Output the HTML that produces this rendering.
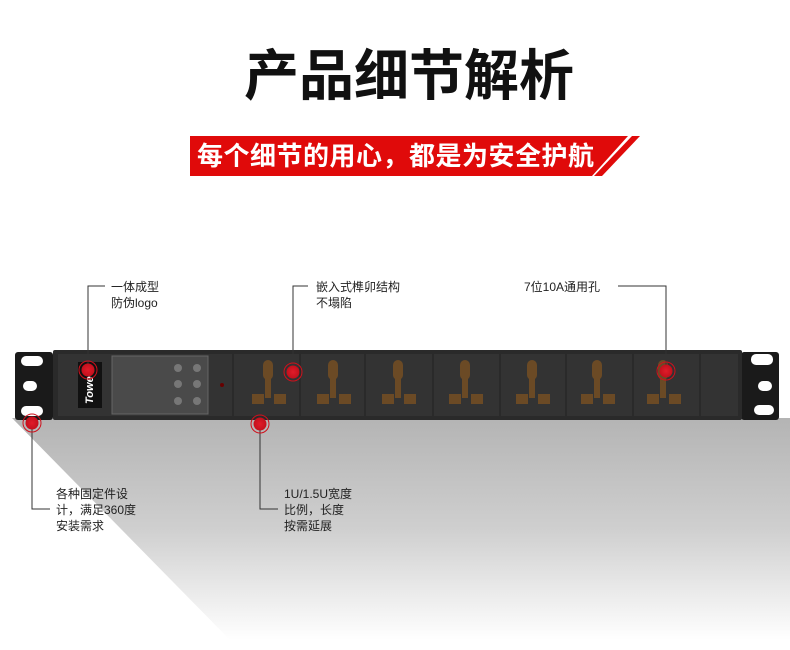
<!DOCTYPE html>
<html><head><meta charset="utf-8"><style>
html,body{margin:0;padding:0;background:#fff;}
body{width:790px;height:650px;position:relative;overflow:hidden;font-family:"Liberation Sans","Noto Sans CJK SC",sans-serif;}
.t{position:absolute;font-size:12px;color:#222;line-height:16px;}
</style></head><body>
<svg width="790" height="650" style="position:absolute;left:0;top:0">
<defs>
<linearGradient id="sh" x1="0" y1="0" x2="0" y2="1">
<stop offset="0" stop-color="#b4b4b4"/><stop offset="0.5" stop-color="#cfcfcf"/><stop offset="1" stop-color="#fff"/>
</linearGradient>
<radialGradient id="rd"><stop offset="0" stop-color="#e01c2a"/><stop offset="1" stop-color="#c3101c"/></radialGradient>
<g id="s"><rect x="-5" y="10" width="10" height="20" rx="5"/><rect x="-3" y="28" width="6" height="20"/><rect x="-16" y="44" width="12" height="10"/><rect x="6" y="44" width="12" height="10"/></g>
</defs>
<polygon points="12,418 790,418 790,640 230,640" fill="url(#sh)"/>
<text x="409" y="95" text-anchor="middle" font-size="55" font-weight="bold" font-family="Liberation Sans,Noto Sans CJK SC,sans-serif" fill="#111">产品细节解析</text>
<polygon points="190,136 628,136 592,176 190,176" fill="#e00a0a"/>
<polygon points="632,136 640,136 602,176 594,176" fill="#e00a0a"/>
<text x="197" y="165" font-size="26" letter-spacing="0.5" font-weight="bold" fill="#fff" font-family="Liberation Sans,Noto Sans CJK SC,sans-serif">每个细节的用心，都是为安全护航</text>
<rect x="15" y="352" width="38" height="68" rx="3" fill="#1a1a1a"/>
<rect x="21" y="356" width="22" height="10" rx="5" fill="#fff"/>
<rect x="23" y="381" width="14" height="10" rx="5" fill="#fff"/>
<rect x="21" y="406" width="22" height="10" rx="5" fill="#fff"/>
<rect x="741" y="352" width="38" height="68" rx="3" fill="#1a1a1a"/>
<rect x="751" y="354" width="22" height="11" rx="5" fill="#fff"/>
<rect x="758" y="381" width="14" height="10" rx="5" fill="#fff"/>
<rect x="754" y="405" width="20" height="10" rx="5" fill="#fff"/>
<rect x="53" y="350" width="689" height="70" rx="2" fill="#2a2a2a"/>
<rect x="58" y="354" width="680" height="62" fill="#333"/>
<rect x="78" y="362" width="24" height="46" fill="#111"/>
<text x="93" y="404" font-size="11" font-weight="bold" fill="#fff" font-style="italic" transform="rotate(-90 93 404)">Towe</text>
<rect x="112" y="356" width="96" height="58" fill="#4a4a4a" stroke="#666"/>
<g fill="#777">
<circle cx="178" cy="368" r="4"/><circle cx="197" cy="368" r="4"/>
<circle cx="178" cy="384" r="4"/><circle cx="197" cy="384" r="4"/>
<circle cx="178" cy="401" r="4"/><circle cx="197" cy="401" r="4"/>
</g>
<circle cx="222" cy="385" r="2" fill="#600"/>
<line x1="233" y1="354" x2="233" y2="416" stroke="#222"/>
<g fill="#6b4a25">
<use href="#s" transform="translate(268,350)"/>
<use href="#s" transform="translate(333,350)"/>
<use href="#s" transform="translate(398,350)"/>
<use href="#s" transform="translate(465,350)"/>
<use href="#s" transform="translate(532,350)"/>
<use href="#s" transform="translate(597,350)"/>
<use href="#s" transform="translate(663,350)"/>
</g>
<g stroke="#222">
<line x1="300" y1="354" x2="300" y2="416"/><line x1="365" y1="354" x2="365" y2="416"/>
<line x1="433" y1="354" x2="433" y2="416"/><line x1="500" y1="354" x2="500" y2="416"/>
<line x1="566" y1="354" x2="566" y2="416"/><line x1="633" y1="354" x2="633" y2="416"/>
<line x1="700" y1="354" x2="700" y2="416"/>
</g>
<g stroke="#333" fill="none" stroke-width="1">
<polyline points="105,286 88,286 88,370"/>
<polyline points="308,286 293,286 293,372"/>
<polyline points="618,286 666,286 666,370"/>
<polyline points="50,509 32,509 32,423"/>
<polyline points="278,509 260,509 260,424"/>
</g>
<g>
<circle cx="88" cy="370" r="9" fill="none" stroke="#d0101c"/><circle cx="88" cy="370" r="6.5" fill="url(#rd)"/>
<circle cx="293" cy="372" r="9" fill="none" stroke="#d0101c"/><circle cx="293" cy="372" r="6.5" fill="url(#rd)"/>
<circle cx="666" cy="371" r="9" fill="none" stroke="#d0101c"/><circle cx="666" cy="371" r="6.5" fill="url(#rd)"/>
<circle cx="32" cy="423" r="9" fill="none" stroke="#d0101c"/><circle cx="32" cy="423" r="6.5" fill="url(#rd)"/>
<circle cx="260" cy="424" r="9" fill="none" stroke="#d0101c"/><circle cx="260" cy="424" r="6.5" fill="url(#rd)"/>
</g>
</svg>
<div class="t" style="left:111px;top:279px">一体成型<br>防伪logo</div>
<div class="t" style="left:316px;top:279px">嵌入式榫卯结构<br>不塌陷</div>
<div class="t" style="left:524px;top:279px">7位10A通用孔</div>
<div class="t" style="left:56px;top:486px">各种固定件设<br>计，满足360度<br>安装需求</div>
<div class="t" style="left:284px;top:486px">1U/1.5U宽度<br>比例，长度<br>按需延展</div>
</body></html>
